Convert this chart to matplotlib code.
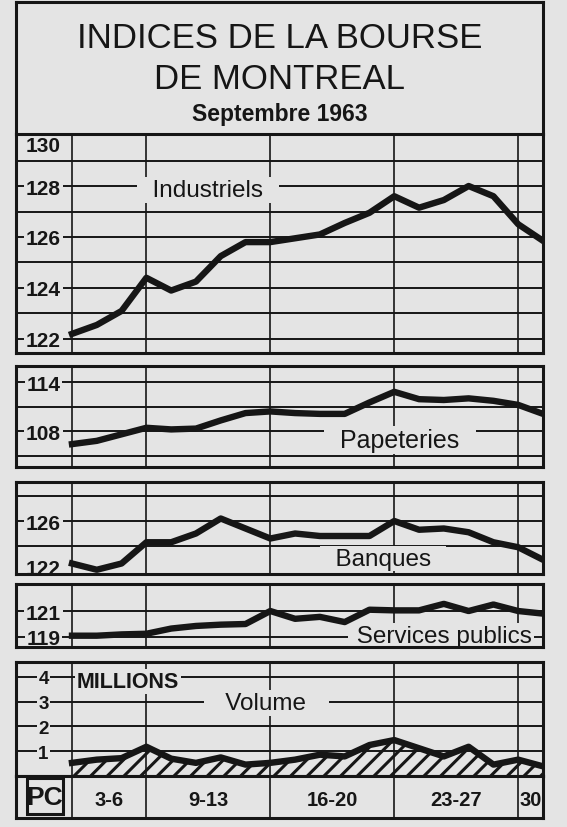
import numpy as np
import matplotlib.pyplot as plt

# --------------------------------------------------------------
# Data : indices de la Bourse de Montreal, septembre 1963
# one value per trading day (3 -> 30 septembre)
# --------------------------------------------------------------
days = np.arange(20)
week_days = [4, 5, 5, 5, 1]
week_labels = ['3-6', '9-13', '16-20', '23-27', '30']

industriels = [122.2, 122.55, 123.1, 124.4, 123.9, 124.25, 125.25, 125.8, 125.8, 125.95,
               126.1, 126.55, 126.95, 127.6, 127.15, 127.45, 128.0, 127.6, 126.5, 125.85]
papeteries = [106.4, 106.8, 107.6, 108.4, 108.2, 108.3, 109.3, 110.2, 110.4, 110.2,
              110.1, 110.1, 111.5, 112.8, 111.9, 111.8, 112.0, 111.7, 111.2, 110.1]
banques = [122.6, 122.1, 122.6, 124.3, 124.3, 125.0, 126.2, 125.4, 124.6, 125.0,
           124.8, 124.8, 124.8, 126.0, 125.3, 125.4, 125.1, 124.3, 123.9, 122.9]
services = [119.1, 119.1, 119.2, 119.25, 119.65, 119.85, 119.95, 120.0, 121.0, 120.4,
            120.55, 120.15, 121.1, 121.05, 121.05, 121.55, 121.0, 121.5, 121.0, 120.8]
volume = [0.53, 0.66, 0.72, 1.18, 0.70, 0.53, 0.75, 0.46, 0.53, 0.66,
          0.86, 0.79, 1.25, 1.45, 1.12, 0.79, 1.18, 0.46, 0.66, 0.39]

# --------------------------------------------------------------
# Style
# --------------------------------------------------------------
bg = '#e4e4e4'
ink = '#161616'
plt.rcParams['font.family'] = ['Liberation Sans', 'DejaVu Sans']
plt.rcParams['hatch.linewidth'] = 2.2
plt.rcParams['hatch.color'] = ink

W, H = 567, 828
left_px, plot_px, right_px = 16, 72, 543
step = (right_px - plot_px) / (len(days) - 1)
x_min = -(plot_px - left_px) / step
x_tick = (43.5 - plot_px) / step

bounds = [0] + list(np.cumsum(week_days) - 1)
week_pos = [(a + b) / 2 for a, b in zip(bounds[:-1], bounds[1:])]

fig = plt.figure(figsize=(W / 100, H / 100), dpi=100, facecolor=bg)


def add_panel(top, bottom, ylim, vlines=True):
    ax = fig.add_axes([left_px / W, 1 - bottom / H, (right_px - left_px) / W, (bottom - top) / H])
    ax.set_facecolor(bg)
    ax.set_xlim(x_min, days[-1])
    ax.set_ylim(*ylim)
    ax.set_xticks([])
    ax.set_yticks([])
    for s in ax.spines.values():
        s.set_linewidth(2.2)
        s.set_color(ink)
        s.set_zorder(4)
    if vlines:
        for b in bounds[:-1]:
            ax.axvline(b, color=ink, lw=1.2, zorder=1)
    return ax


def grid_ticks(ax, lines, labels, fs=15, shift=None):
    shift = shift or {}
    for v in lines:
        ax.axhline(v, color=ink, lw=1.4, zorder=1)
    for v in labels:
        ax.text(x_tick, v + shift.get(v, 0), str(v), ha='center', va='center_baseline',
                fontsize=fs, fontweight='bold', color=ink, zorder=2,
                bbox=dict(boxstyle='square,pad=0.08', fc=bg, ec='none'))


def name(ax, x, y, s, fs=17.5, **kw):
    ax.text(x, y, s, ha='center', va='baseline', fontsize=fs, color=ink, zorder=2,
            bbox=dict(boxstyle='square,pad=0.08', fc=bg, ec='none'), **kw)


# --------------------------------------------------------------
# Title box
# --------------------------------------------------------------
ax0 = add_panel(3, 135, (0, 1), vlines=False)
ax0.spines['bottom'].set_visible(False)
ax0.set_xlim(0, 1)
ax0.text(0.5, (135 - 48) / 132, 'INDICES DE LA BOURSE', ha='center', va='baseline',
         fontsize=25, color=ink)
ax0.text(0.5, (135 - 89) / 132, 'DE MONTREAL', ha='center', va='baseline',
         fontsize=25, color=ink)
ax0.text(0.5, (135 - 121) / 132, 'Septembre 1963', ha='center', va='baseline',
         fontsize=16.5, fontweight='bold', color=ink)

# --------------------------------------------------------------
# Industriels
# --------------------------------------------------------------
ax1 = add_panel(135, 354, (121.45, 130.04))
grid_ticks(ax1, range(122, 130), [130, 128, 126, 124, 122], shift={130: -0.32})
name(ax1, 5.49, 127.61, '  Industriels  ')
ax1.plot(days, industriels, color=ink, lw=4.6, zorder=3, solid_joinstyle='round')

# --------------------------------------------------------------
# Papeteries
# --------------------------------------------------------------
ax2 = add_panel(367, 468, (103.6, 115.96))
grid_ticks(ax2, [105, 108, 111, 114], [114, 108])
name(ax2, 13.23, 106.04, '  Papeteries  ', fs=18)
ax2.plot(days, papeteries, color=ink, lw=4.6, zorder=3, solid_joinstyle='round')

# --------------------------------------------------------------
# Banques
# --------------------------------------------------------------
ax3 = add_panel(483, 575, (121.76, 129.12))
grid_ticks(ax3, [124, 126, 128], [126, 122], shift={122: 0.4})
name(ax3, 12.55, 122.52, '  Banques  ')
ax3.plot(days, banques, color=ink, lw=4.6, zorder=3, solid_joinstyle='round')

# --------------------------------------------------------------
# Services publics
# --------------------------------------------------------------
ax4 = add_panel(585, 648, (118.23, 123.08))
grid_ticks(ax4, [119, 121], [121, 119])
name(ax4, 14.88, 118.6, ' Services publics')
ax4.plot(days, services, color=ink, lw=4.6, zorder=3, solid_joinstyle='round')

# --------------------------------------------------------------
# Volume (millions)
# --------------------------------------------------------------
ax5 = add_panel(663, 777, (0, 4.6))
grid_ticks(ax5, [1, 2, 3, 4], [4, 3, 2, 1], fs=13.5)
name(ax5, 7.83, 2.71, '   Volume   ')
ax5.text(0.2, 3.6, 'MILLIONS', ha='left', va='baseline', fontsize=15.5, fontweight='bold',
         color=ink, zorder=2, bbox=dict(boxstyle='square,pad=0.08', fc=bg, ec='none'))
ax5.fill_between(days, 0, volume, facecolor='none', edgecolor=ink, hatch='//', lw=0, zorder=2.5)
ax5.plot(days, volume, color=ink, lw=4.6, zorder=3, solid_joinstyle='round')

# --------------------------------------------------------------
# Week labels + PC logo
# --------------------------------------------------------------
ax6 = add_panel(777, 819, (0, 1))
for x, lab in zip(week_pos, week_labels):
    ax6.text(x, 0.45, lab, ha='center', va='center', fontsize=14.5, fontweight='bold', color=ink)
ax6.add_patch(plt.Rectangle(((27 - plot_px) / step, 0.1), 36 / step, 0.86, fill=False,
                            ec=ink, lw=2.2))
ax6.text((45 - plot_px) / step, 0.5, 'PC', ha='center', va='center', fontsize=19,
         fontweight='bold', color=ink)

plt.savefig('out.png', dpi=100, facecolor=bg)
